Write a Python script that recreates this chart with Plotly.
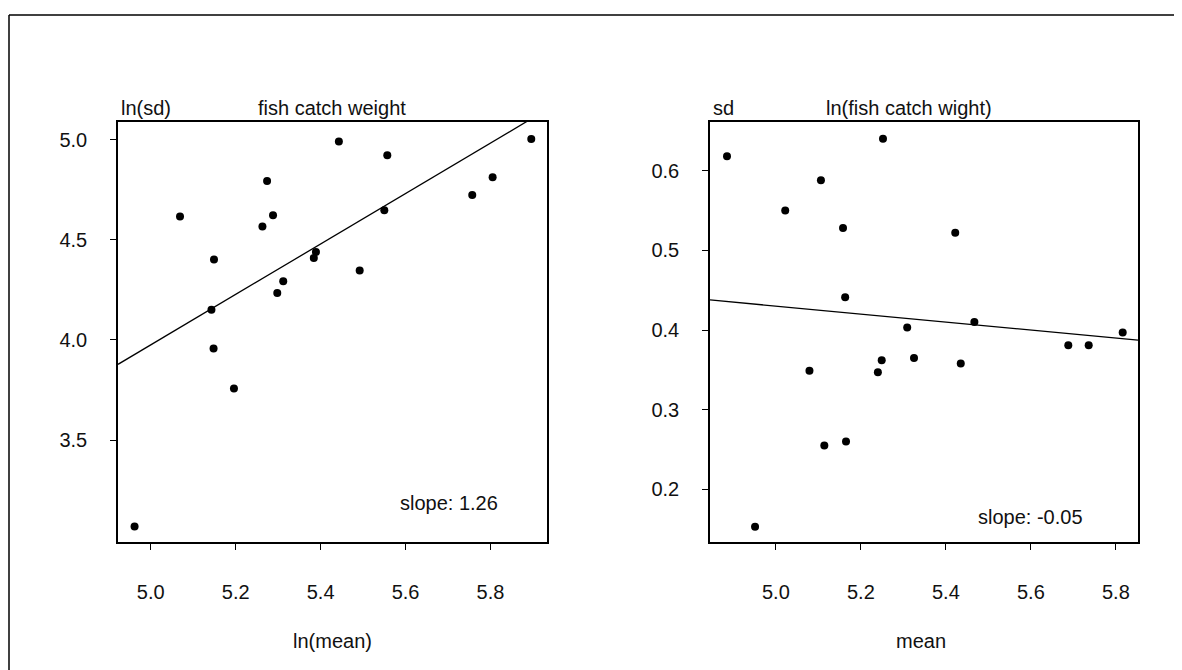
import plotly.graph_objects as go

# ---- data ----
left_x = [5.443, 5.557, 5.896, 5.274, 5.069, 5.288, 5.263, 5.550, 5.757, 5.805,
          5.149, 5.389, 5.384, 5.492, 5.312, 5.298, 5.143, 5.148, 5.196, 4.962]
left_y = [4.991, 4.922, 5.003, 4.793, 4.616, 4.622, 4.566, 4.647, 4.724, 4.812,
          4.402, 4.439, 4.409, 4.346, 4.293, 4.234, 4.151, 3.957, 3.757, 3.069]

right_x = [4.885, 5.252, 5.106, 5.022, 5.158, 5.422, 5.163, 5.467, 5.309, 5.816,
           5.688, 5.736, 5.249, 5.325, 5.435, 5.079, 5.240, 5.165, 5.114, 4.951]
right_y = [0.618, 0.640, 0.588, 0.550, 0.528, 0.522, 0.441, 0.410, 0.403, 0.397,
           0.381, 0.381, 0.362, 0.365, 0.358, 0.349, 0.347, 0.260, 0.255, 0.153]

left_slope, left_intercept = 1.26, -2.325
right_slope, right_intercept = -0.05, 0.680

left_xticks = [5.0, 5.2, 5.4, 5.6, 5.8]
left_yticks = [3.5, 4.0, 4.5, 5.0]
right_xticks = [5.0, 5.2, 5.4, 5.6, 5.8]
right_yticks = [0.2, 0.3, 0.4, 0.5, 0.6]

left_xrange = [4.923, 5.933]
left_yrange = [2.991, 5.088]
right_xrange = [4.845, 5.852]
right_yrange = [0.134, 0.661]

# page body has an 8px margin; the figure is sized to fit inside the window
OX, OY = 8, 8
W, H = 1174, 662
FONT = "Arial, Liberation Sans, sans-serif"


def px(x):
    return (x - OX) / W


def py(y):
    return 1 - (y - OY) / H


fig = go.Figure()

# points
fig.add_trace(go.Scatter(x=left_x, y=left_y, mode="markers", xaxis="x", yaxis="y",
                         marker=dict(color="black", size=8), showlegend=False))
fig.add_trace(go.Scatter(x=right_x, y=right_y, mode="markers", xaxis="x2", yaxis="y2",
                         marker=dict(color="black", size=8), showlegend=False))

# regression lines
lx = left_xrange
fig.add_trace(go.Scatter(x=lx, y=[left_intercept + left_slope * v for v in lx],
                         mode="lines", xaxis="x", yaxis="y",
                         line=dict(color="black", width=1.3), showlegend=False))
rx = right_xrange
fig.add_trace(go.Scatter(x=rx, y=[right_intercept + right_slope * v for v in rx],
                         mode="lines", xaxis="x2", yaxis="y2",
                         line=dict(color="black", width=1.3), showlegend=False))

axis_common = dict(showline=True, linecolor="black", linewidth=1.5, mirror=True,
                   ticks="outside", ticklen=6, tickwidth=1.2, tickcolor="black",
                   showgrid=False, zeroline=False,
                   tickfont=dict(family=FONT, size=20, color="#111111"))

fig.update_layout(
    width=W, height=H,
    margin=dict(l=0, r=0, t=0, b=0),
    paper_bgcolor="white", plot_bgcolor="white",
    xaxis=dict(domain=[px(118), px(547)], range=left_xrange, tickvals=left_xticks,
               ticktext=[f"{v:.1f}" for v in left_xticks], anchor="y",
               ticklabelstandoff=25, **axis_common),
    yaxis=dict(domain=[py(542), py(122)], range=left_yrange, tickvals=left_yticks,
               ticktext=[f"{v:.1f}" for v in left_yticks], anchor="x",
               ticklabelstandoff=19, **axis_common),
    xaxis2=dict(domain=[px(710), px(1138)], range=right_xrange, tickvals=right_xticks,
                ticktext=[f"{v:.1f}" for v in right_xticks], anchor="y2",
                ticklabelstandoff=25, **axis_common),
    yaxis2=dict(domain=[py(542), py(122)], range=right_yrange, tickvals=right_yticks,
                ticktext=[f"{v:.1f}" for v in right_yticks], anchor="x2",
                ticklabelstandoff=19, **axis_common),
)

txt = dict(family=FONT, size=20, color="#111111")
ann = [
    dict(text="ln(sd)", x=px(119), y=py(108), xanchor="left"),
    dict(text="fish catch weight", x=px(332), y=py(108), xanchor="center"),
    dict(text="sd", x=px(711), y=py(108), xanchor="left"),
    dict(text="ln(fish catch wight)", x=px(909), y=py(108), xanchor="center"),
    dict(text="ln(mean)", x=px(332), y=py(641), xanchor="center"),
    dict(text="mean", x=px(921), y=py(641), xanchor="center"),
    dict(text=f"slope: {left_slope:.2f}", x=px(449), y=py(503), xanchor="center"),
    dict(text=f"slope: {right_slope:.2f}", x=px(1030), y=py(517), xanchor="center"),
]
for a in ann:
    fig.add_annotation(xref="paper", yref="paper", yanchor="middle", showarrow=False,
                       font=txt, **a)

# outer frame (partially visible)
fig.add_shape(type="line", xref="paper", yref="paper", x0=px(9), x1=1.0, y0=py(15), y1=py(15),
              line=dict(color="black", width=1.5))
fig.add_shape(type="line", xref="paper", yref="paper", x0=px(9), x1=px(9), y0=py(15), y1=0,
              line=dict(color="black", width=1.5))

fig.write_html("out.html")
